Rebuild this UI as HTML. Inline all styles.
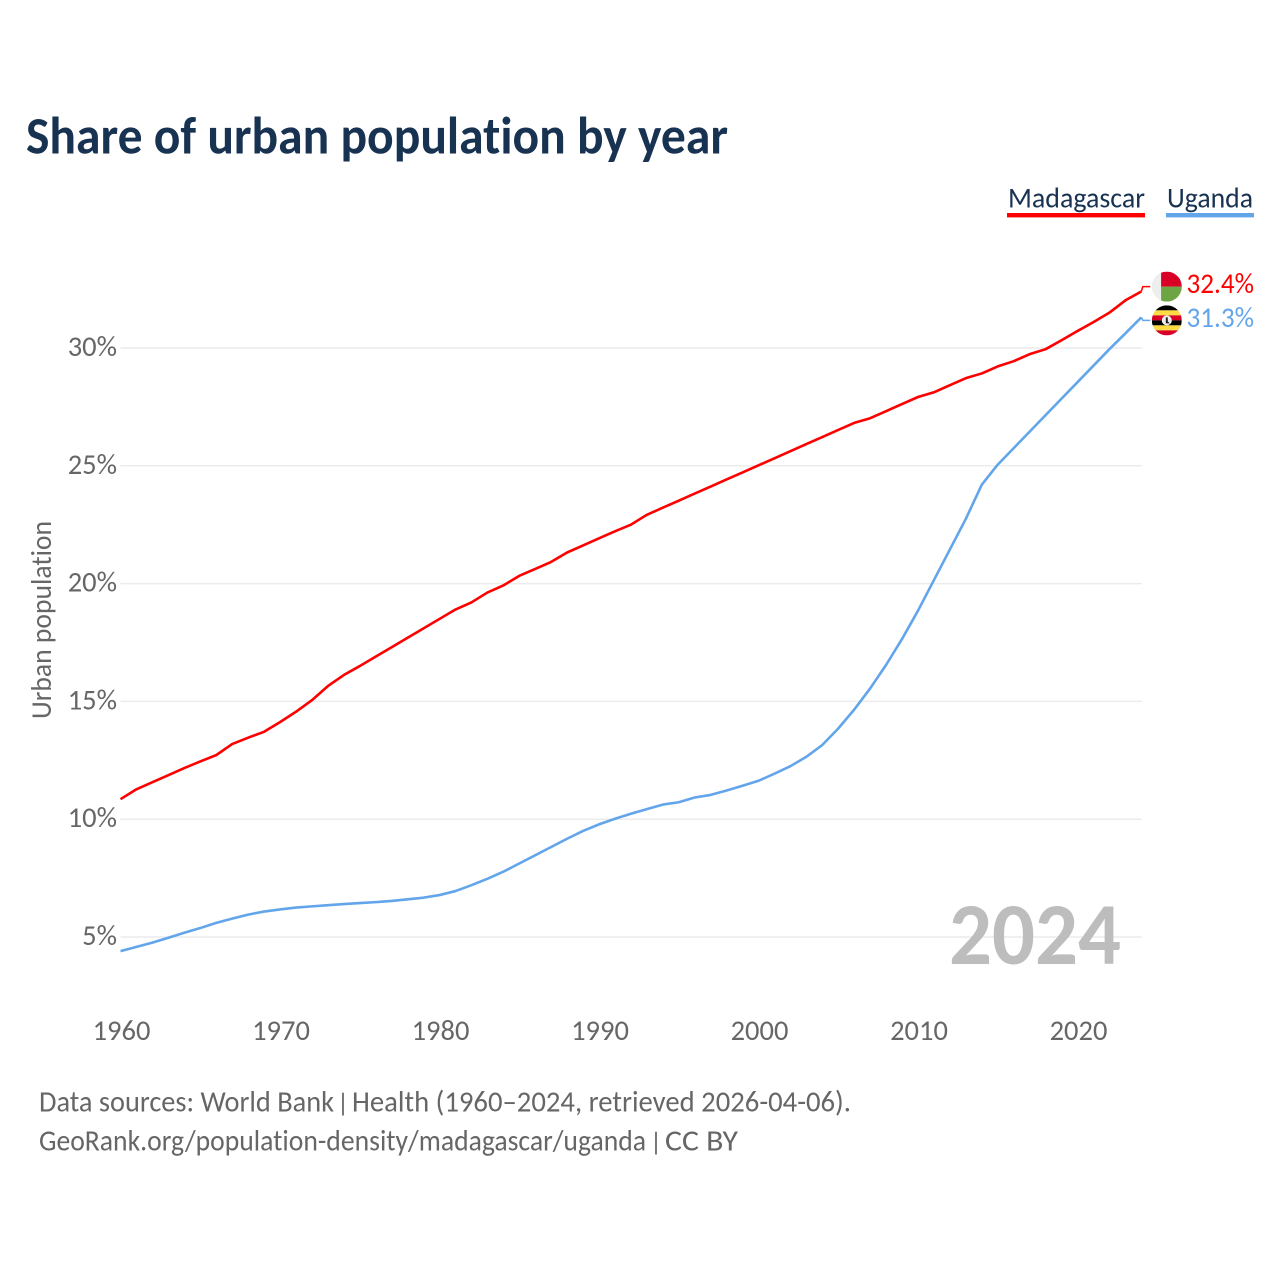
<!DOCTYPE html>
<html lang="en">
<head>
<meta charset="utf-8">
<title>Share of urban population by year</title>
<style>
  html, body { margin: 0; padding: 0; background: #fff; }
  svg { display: block; font-family: "Carlito", "Lato", "Liberation Sans", sans-serif; font-variant-ligatures: none; }
</style>
</head>
<body>
<svg id="chart" xmlns="http://www.w3.org/2000/svg" width="1280" height="1280" viewBox="0 0 1280 1280">
  <defs>
    <clipPath id="clip-mg"><circle cx="0" cy="0" r="15"></circle></clipPath>
    <clipPath id="clip-ug"><circle cx="0" cy="0" r="15"></circle></clipPath>
  </defs>
  <text x="26" y="153.5" font-size="53" font-weight="700" fill="#183251" textLength="702" lengthAdjust="spacingAndGlyphs">Share of urban population by year</text>

  <text x="1008" y="207.5" font-size="28.5" fill="#183251" textLength="137" lengthAdjust="spacingAndGlyphs">Madagascar</text>
  <rect x="1007" y="213" width="138" height="4.4" fill="#ff0000"></rect>
  <text x="1167" y="207.5" font-size="28.5" fill="#183251" textLength="86" lengthAdjust="spacingAndGlyphs">Uganda</text>
  <rect x="1166" y="213" width="88" height="4.4" fill="#62a5eb"></rect>

  <g id="grid"></g>
  <g id="y-axis"></g>
  <g id="x-axis"></g>

  <text transform="translate(51.2,719) rotate(-90)" font-size="28.5" fill="#666666" textLength="198" lengthAdjust="spacingAndGlyphs">Urban population</text>

  <text x="949" y="964" font-size="88" font-weight="700" fill="#bdbdbd" textLength="172" lengthAdjust="spacingAndGlyphs">2024</text>

  <g id="series"></g>

  <g id="flag-mg">
    <g clip-path="url(#clip-mg)">
      <rect x="-15" y="-15" width="30" height="30" fill="#eeeeee"></rect>
      <rect x="-5.7" y="-15" width="21" height="15" fill="#d80027"></rect>
      <rect x="-5.7" y="0" width="21" height="15" fill="#6da544"></rect>
    </g>
  </g>
  <g id="flag-ug">
    <g clip-path="url(#clip-ug)">
      <rect x="-15" y="-15" width="30" height="5" fill="#000000"></rect>
      <rect x="-15" y="-10" width="30" height="5" fill="#ffda44"></rect>
      <rect x="-15" y="-5" width="30" height="5" fill="#d80027"></rect>
      <rect x="-15" y="0" width="30" height="5" fill="#000000"></rect>
      <rect x="-15" y="5" width="30" height="5" fill="#ffda44"></rect>
      <rect x="-15" y="10" width="30" height="5" fill="#d80027"></rect>
      <circle cx="0" cy="0" r="5" fill="#eeeeee"></circle>
      <path d="M-1 -3 L1 -3 L1 1 L3 3 L-1 3 Z" fill="#222222"></path>
    </g>
  </g>

  <g font-size="30" fill="#666666">
    <text x="39" y="1111.5" textLength="295" lengthAdjust="spacingAndGlyphs">Data sources: World Bank</text>
    <text x="337" y="1111.5" font-size="26">|</text>
    <text x="352" y="1111.5" textLength="499" lengthAdjust="spacingAndGlyphs">Health (1960–2024, retrieved 2026-04-06).</text>
  </g>
  <g font-size="30" fill="#666666">
    <text x="39" y="1150.5" textLength="607" lengthAdjust="spacingAndGlyphs">GeoRank.org/population-density/madagascar/uganda</text>
    <text x="650" y="1150.5" font-size="26">|</text>
    <text x="665" y="1150.5" textLength="73" lengthAdjust="spacingAndGlyphs">CC BY</text>
  </g>
</svg>
<script>
const years = [1960,1961,1962,1963,1964,1965,1966,1967,1968,1969,1970,1971,1972,1973,1974,1975,1976,1977,1978,1979,1980,1981,1982,1983,1984,1985,1986,1987,1988,1989,1990,1991,1992,1993,1994,1995,1996,1997,1998,1999,2000,2001,2002,2003,2004,2005,2006,2007,2008,2009,2010,2011,2012,2013,2014,2015,2016,2017,2018,2019,2020,2021,2022,2023,2024];
const madagascar = [10.85,11.27,11.57,11.87,12.17,12.45,12.72,13.19,13.46,13.71,14.12,14.56,15.05,15.65,16.12,16.5,16.9,17.3,17.7,18.1,18.5,18.9,19.2,19.62,19.92,20.33,20.62,20.92,21.32,21.62,21.92,22.22,22.5,22.92,23.22,23.52,23.82,24.12,24.42,24.72,25.02,25.32,25.62,25.92,26.22,26.52,26.82,27.02,27.32,27.62,27.92,28.12,28.42,28.72,28.92,29.22,29.44,29.74,29.95,30.33,30.72,31.1,31.5,32.02,32.4];
const uganda = [4.4,4.58,4.76,4.97,5.18,5.38,5.6,5.78,5.95,6.08,6.17,6.25,6.3,6.35,6.4,6.44,6.48,6.53,6.6,6.67,6.78,6.95,7.2,7.47,7.77,8.12,8.47,8.82,9.17,9.5,9.78,10.02,10.23,10.43,10.62,10.72,10.92,11.03,11.22,11.42,11.63,11.93,12.25,12.65,13.15,13.85,14.65,15.55,16.55,17.65,18.85,20.15,21.45,22.75,24.2,25.05,25.75,26.45,27.15,27.85,28.55,29.25,29.95,30.62,31.3];
const yTicks = [5,10,15,20,25,30];
const xTicks = [1960,1970,1980,1990,2000,2010,2020];

const NS = 'http://www.w3.org/2000/svg';
function xScale(year) { return 120.5 + (year - 1960) * 15.95; }
function yScale(v) { return 937 - (v - 5) * 23.56; }
function make(tag, attrs, parent) {
  const el = document.createElementNS(NS, tag);
  for (const k in attrs) el.setAttribute(k, attrs[k]);
  parent.appendChild(el);
  return el;
}

const gridG = document.getElementById('grid');
const yAxisG = document.getElementById('y-axis');
yTicks.forEach(function (t) {
  const line = make('line', { x1: 120.5, x2: 1142, y1: yScale(t), y2: yScale(t), stroke: '#ececec', 'stroke-width': 1.5 }, gridG);
  
  
  const label = make('text', { x: 117, y: yScale(t) + 8, 'font-size': 28.5, fill: '#666666', 'text-anchor': 'end' }, yAxisG);
  
  
  label.textContent = t + '%';
});

const xAxisG = document.getElementById('x-axis');
xTicks.forEach(function (t) {
  const label = make('text', { x: xScale(t) + 1, y: 1040, 'font-size': 28.5, fill: '#666666', 'text-anchor': 'middle' }, xAxisG);
  
  
  label.textContent = t;
});

const seriesG = document.getElementById('series');
function points(values) {
  return values.map(function (v, i) { return xScale(years[i]).toFixed(2) + ',' + yScale(v).toFixed(2); }).join(' ');
}

const mgLine = make('polyline', { points: points(madagascar), fill: 'none', stroke: '#ff0000', 'stroke-width': 2.6, 'stroke-linejoin': 'round' }, seriesG);



const ugLine = make('polyline', { points: points(uganda), fill: 'none', stroke: '#62a5eb', 'stroke-width': 2.6, 'stroke-linejoin': 'round' }, seriesG);



const lastX = xScale(years[years.length - 1]);
const mgEnd = yScale(madagascar[madagascar.length - 1]);
const ugEnd = yScale(uganda[uganda.length - 1]);
const mgRow = mgEnd - 4.8;
const ugRow = ugEnd + 3;

const mgConn = make('polyline', { points: lastX + ',' + mgEnd + ' ' + (lastX + 1.5) + ',' + mgRow + ' ' + (lastX + 9) + ',' + mgRow, fill: 'none', stroke: '#ff0000', 'stroke-width': 1.5 }, seriesG);



const ugConn = make('polyline', { points: lastX + ',' + ugEnd + ' ' + (lastX + 1.5) + ',' + ugRow + ' ' + (lastX + 9) + ',' + ugRow, fill: 'none', stroke: '#62a5eb', 'stroke-width': 1.5 }, seriesG);



document.getElementById('flag-mg').setAttribute('transform', 'translate(1166.8,' + mgRow + ')');
document.getElementById('flag-ug').setAttribute('transform', 'translate(1166.8,' + ugRow + ')');

const mgValue = make('text', { x: 1186.5, y: mgRow + 6.5, 'font-size': 28.5, fill: '#ff0000', textLength: 67.5, lengthAdjust: 'spacingAndGlyphs' }, seriesG);


mgValue.textContent = madagascar[madagascar.length - 1].toFixed(1) + '%';

const ugValue = make('text', { x: 1186.5, y: ugRow + 6.5, 'font-size': 28.5, fill: '#62a5eb', textLength: 67.5, lengthAdjust: 'spacingAndGlyphs' }, seriesG);


ugValue.textContent = uganda[uganda.length - 1].toFixed(1) + '%';
</script>
</body>
</html>
